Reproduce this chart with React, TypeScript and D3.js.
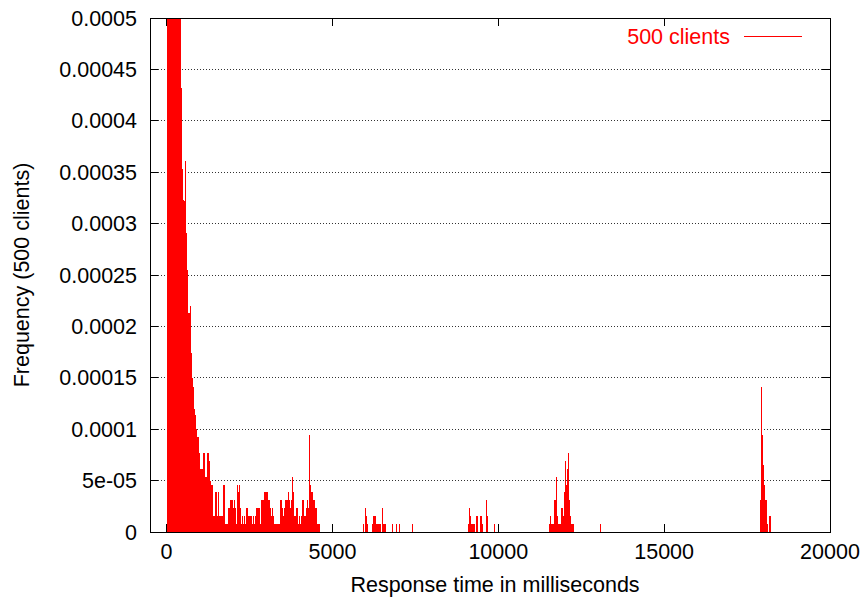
import React from "react";
import * as d3 from "d3";

// ---- data (response time in ms, frequency) ----
const mainCluster: [number, number][] = [
  [0, 6.0e-4], [10, 8.0e-4], [40, 1.0e-3], [70, 1.2e-3], [100, 1.3e-3], [130, 1.3e-3], [160, 1.25e-3],
  [190, 1.2e-3], [220, 1.1e-3], [250, 1.0e-3], [280, 9.0e-4], [310, 8.2e-4], [340, 7.4e-4], [370, 6.6e-4],
  [400, 5.8e-4], [430, 4.32e-4], [460, 3.53e-4], [490, 3.23e-4], [520, 3.22e-4], [550, 3.61e-4], [580, 2.91e-4],
  [610, 2.55e-4], [640, 2.13e-4], [670, 2.13e-4], [700, 2.2e-4], [730, 1.74e-4], [760, 1.5e-4], [790, 1.41e-4],
  [820, 1.2e-4], [850, 1.14e-4], [880, 1.0e-4], [910, 9.24e-5], [940, 9.24e-5], [970, 7.7e-5], [1000, 6.16e-5],
  [1030, 6.16e-5], [1060, 6.16e-5], [1100, 7.7e-5], [1130, 7.7e-5], [1160, 5.39e-5], [1190, 5.39e-5],
  [1220, 7.7e-5], [1250, 7.7e-5], [1280, 6.93e-5], [1310, 5.0e-5], [1340, 4.62e-5], [1370, 4.62e-5],
  [1400, 1.54e-5], [1430, 1.54e-5], [1460, 3.85e-5], [1490, 3.85e-5], [1520, 1.54e-5], [1550, 3.85e-5],
  [1580, 1.54e-5], [1610, 1.54e-5], [1640, 1.54e-5], [1670, 1.54e-5], [1700, 4.62e-5], [1730, 4.62e-5],
  [1760, 7.7e-6], [1790, 7.7e-6], [1820, 7.7e-6], [1850, 2.31e-5], [1880, 2.31e-5], [1910, 3.08e-5],
  [1940, 3.08e-5], [1970, 3.08e-5], [2000, 2.31e-5], [2030, 3.08e-5], [2060, 2.31e-5], [2090, 7.7e-6],
  [2120, 4.62e-5], [2150, 3.85e-5], [2180, 4.62e-5], [2210, 2.31e-5], [2240, 7.7e-6], [2270, 1.54e-5],
  [2300, 7.7e-6], [2330, 1.54e-5], [2360, 7.7e-6], [2390, 2.31e-5], [2420, 2.31e-5], [2450, 1.54e-5],
  [2480, 1.54e-5], [2510, 1.54e-5], [2540, 1.54e-5], [2570, 7.7e-6], [2600, 1.54e-5], [2630, 7.7e-6],
  [2660, 1.54e-5], [2690, 2.31e-5], [2720, 2.31e-5], [2750, 2.31e-5], [2780, 2.31e-5], [2810, 7.7e-6],
  [2840, 3.08e-5], [2870, 3.08e-5], [2900, 3.08e-5], [2930, 3.85e-5], [2960, 3.85e-5], [2990, 3.85e-5],
  [3020, 3.85e-5], [3050, 3.08e-5], [3080, 3.08e-5], [3110, 2.31e-5], [3140, 1.54e-5], [3170, 2.31e-5],
  [3200, 1.54e-5], [3230, 7.7e-6], [3260, 7.7e-6], [3290, 7.7e-6], [3320, 7.7e-6], [3350, 7.7e-6],
  [3380, 7.7e-6], [3410, 3.08e-5], [3440, 3.08e-5], [3470, 2.31e-5], [3500, 1.54e-5], [3530, 2.31e-5],
  [3560, 3.08e-5], [3590, 3.08e-5], [3620, 3.08e-5], [3650, 3.85e-5], [3680, 3.08e-5], [3710, 2.31e-5],
  [3740, 3.08e-5], [3770, 5.39e-5], [3800, 3.85e-5], [3830, 1.54e-5], [3860, 1.54e-5], [3890, 2.31e-5],
  [3920, 2.31e-5], [3950, 7.7e-6], [3980, 1.54e-5], [4010, 7.7e-6], [4040, 1.54e-5], [4070, 3.08e-5],
  [4100, 3.08e-5], [4130, 1.54e-5], [4160, 1.54e-5], [4190, 2.31e-5], [4220, 3.08e-5], [4250, 2.31e-5],
  [4290, 9.44e-5], [4320, 4.62e-5], [4350, 3.85e-5], [4380, 3.85e-5], [4410, 3.08e-5], [4440, 3.08e-5],
  [4470, 2.31e-5], [4500, 2.31e-5], [4530, 7.7e-6], [4560, 7.7e-6], [4590, 7.7e-6],
];

const cluster6000: [number, number][] = [
  [5910, 7.7e-6], [5970, 2.31e-5], [6000, 1.54e-5], [6030, 7.7e-6], [6180, 7.7e-6], [6210, 1.54e-5],
  [6240, 1.54e-5], [6270, 1.54e-5], [6300, 7.7e-6], [6330, 7.7e-6], [6360, 7.7e-6], [6390, 7.7e-6],
  [6420, 7.7e-6], [6480, 2.31e-5], [6510, 7.7e-6], [6540, 7.7e-6], [6570, 7.7e-6], [6810, 7.7e-6],
  [6930, 7.7e-6], [7020, 7.7e-6], [7390, 7.7e-6],
];

const cluster9000: [number, number][] = [
  [9100, 7.7e-6], [9130, 2.31e-5], [9160, 1.54e-5], [9190, 7.7e-6], [9220, 7.7e-6], [9250, 7.7e-6],
  [9280, 7.7e-6], [9340, 1.54e-5], [9370, 1.54e-5], [9460, 1.54e-5], [9490, 1.54e-5], [9520, 7.7e-6],
  [9640, 3.08e-5], [9670, 1.54e-5], [9880, 7.7e-6],
];

const cluster12000: [number, number][] = [
  [11540, 7.7e-6], [11570, 1.54e-5], [11600, 7.7e-6], [11630, 7.7e-6], [11660, 7.7e-6], [11690, 3.08e-5],
  [11720, 3.08e-5], [11750, 5.39e-5], [11780, 1.54e-5], [11810, 7.7e-6], [11840, 7.7e-6], [11870, 7.7e-6],
  [11900, 2.31e-5], [11930, 2.31e-5], [11960, 1.54e-5], [11990, 3.85e-5], [12020, 6.93e-5], [12050, 4.62e-5],
  [12080, 6.16e-5], [12110, 7.7e-5], [12140, 3.08e-5], [12170, 1.54e-5], [12200, 7.7e-6], [12230, 7.7e-6],
  [12260, 7.7e-6], [13080, 7.7e-6],
];

const cluster18000: [number, number][] = [
  [17890, 3.08e-5], [17920, 1.41e-4], [17950, 9.44e-5], [17980, 6.5e-5], [18010, 4.62e-5], [18040, 3.08e-5],
  [18070, 3.08e-5], [18100, 7.7e-6], [18160, 1.54e-5], [18190, 1.54e-5],
];

const xTicks = [0, 5000, 10000, 15000, 20000];
const yTicks = [0, 0.00005, 0.0001, 0.00015, 0.0002, 0.00025, 0.0003, 0.00035, 0.0004, 0.00045, 0.0005];
const yTickLabels = ["0", "5e-05", "0.0001", "0.00015", "0.0002", "0.00025", "0.0003", "0.00035", "0.0004", "0.00045", "0.0005"];
const seriesName = "500 clients";
const xTitle = "Response time in milliseconds";
const yTitle = "Frequency (500 clients)";

const W = 861;
const H = 598;
const L = 150, R = 830, T = 18, B = 532;
const FONT = "'Liberation Sans', Arial, Helvetica, sans-serif";
const FS = 21.5;
const TICK = 8;

export default function App() {
  const x = d3.scaleLinear().domain([-500, 20000]).range([L, R]);
  const y = d3.scaleLinear().domain([0, 0.0005]).range([B, T]);
  const all = [...mainCluster, ...cluster6000, ...cluster9000, ...cluster12000, ...cluster18000];

  return (
    <svg width={W} height={H} style={{ position: "fixed", left: 0, top: 0, background: "#fff" }}
      fontFamily={FONT} fontSize={FS}>
      <defs>
        <clipPath id="plotclip">
          <rect x={L} y={T} width={R - L} height={B - T} />
        </clipPath>
      </defs>
      <rect x={0} y={0} width={W} height={H} fill="#fff" />
      {/* grid */}
      {yTicks.slice(1, -1).map((v) => (
        <line key={"g" + v} x1={L + TICK} x2={R - TICK} y1={y(v)} y2={y(v)}
          stroke="#333" strokeWidth={1} strokeDasharray="1 2" shapeRendering="crispEdges" />
      ))}
      {/* impulses */}
      <g clipPath="url(#plotclip)">
        {all.map(([t, f], i) => (
          <line key={"i" + i} x1={Math.round(x(t)) + 0.5} x2={Math.round(x(t)) + 0.5} y1={y(0)} y2={y(f)}
            stroke="#ff0000" strokeWidth={1.3} shapeRendering="crispEdges" />
        ))}
      </g>
      {/* ticks */}
      {yTicks.map((v) => (
        <g key={"yt" + v}>
          <line x1={L} x2={L + TICK} y1={y(v)} y2={y(v)} stroke="#000" shapeRendering="crispEdges" />
          <line x1={R - TICK} x2={R} y1={y(v)} y2={y(v)} stroke="#000" shapeRendering="crispEdges" />
        </g>
      ))}
      {xTicks.map((v) => (
        <g key={"xt" + v}>
          <line x1={x(v)} x2={x(v)} y1={B} y2={B - TICK} stroke="#000" shapeRendering="crispEdges" />
          <line x1={x(v)} x2={x(v)} y1={T} y2={T + TICK} stroke="#000" shapeRendering="crispEdges" />
        </g>
      ))}
      {/* border */}
      <rect x={L} y={T} width={R - L} height={B - T} fill="none" stroke="#000" strokeWidth={1} shapeRendering="crispEdges" />
      {/* tick labels */}
      {yTicks.map((v, i) => (
        <text key={"yl" + v} x={137} y={y(v) + 7.5} textAnchor="end" fill="#000">{yTickLabels[i]}</text>
      ))}
      {xTicks.map((v) => (
        <text key={"xl" + v} x={x(v)} y={559} textAnchor="middle" fill="#000">{v}</text>
      ))}
      {/* axis titles */}
      <text x={(L + R) / 2 + 5} y={592} textAnchor="middle" fill="#000">{xTitle}</text>
      <text transform={`translate(29, ${(T + B) / 2}) rotate(-90)`} textAnchor="middle" fill="#000">{yTitle}</text>
      {/* legend */}
      <text x={730} y={44} textAnchor="end" fill="#ff0000">{seriesName}</text>
      <line x1={744} x2={802} y1={36.5} y2={36.5} stroke="#ff0000" strokeWidth={1} />
    </svg>
  );
}
